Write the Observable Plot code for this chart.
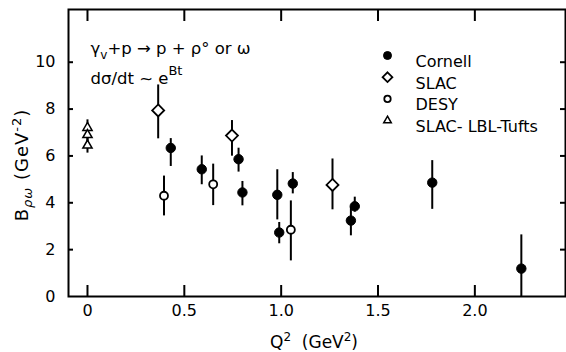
<!DOCTYPE html>
<html>
<head>
<meta charset="utf-8">
<script src="https://cdn.jsdelivr.net/npm/d3@7"></script>
<script src="https://cdn.jsdelivr.net/npm/@observablehq/plot@0.6"></script>
<style>
  html, body { margin: 0; padding: 0; background: #fff; }
  svg text { font-family: "DejaVu Sans", "Liberation Sans", sans-serif; }
</style>
</head>
<body>
<div id="chart"></div>
<script>
// ---- data ----
const cornellQ2 = [0.43, 0.59, 0.78, 0.80, 0.98, 0.99, 1.06, 1.36, 1.38, 1.78, 2.24];
const cornellB  = [6.34, 5.43, 5.86, 4.44, 4.34, 2.73, 4.82, 3.24, 3.85, 4.86, 1.19];
const cornellLo = [5.55, 4.77, 5.31, 3.87, 3.27, 2.25, 4.38, 2.59, 3.60, 3.72, 0.00];
const cornellHi = [6.74, 6.00, 6.33, 4.91, 5.41, 3.16, 5.29, 3.80, 4.24, 5.80, 2.63];

const slacQ2 = [0.365, 0.746, 1.265];
const slacB  = [7.94, 6.87, 4.76];
const slacLo = [6.73, 5.99, 3.70];
const slacHi = [9.03, 7.51, 5.87];

const desyQ2 = [0.395, 0.649, 1.05];
const desyB  = [4.30, 4.79, 2.85];
const desyLo = [3.44, 3.88, 1.52];
const desyHi = [5.14, 5.65, 4.08];

const tuftsQ2 = [0, 0, 0];
const tuftsB  = [7.20, 6.90, 6.45];
const tuftsLo = [6.90, 6.60, 6.12];
const tuftsHi = [7.54, 7.20, 6.80];

const xTicks = [0, 0.5, 1.0, 1.5, 2.0];
const xTickLabels = ["0", "0.5", "1.0", "1.5", "2.0"];
const yTicks = [0, 2, 4, 6, 8, 10];
const yTickLabels = ["0", "2", "4", "6", "8", "10"];

const legendNames = ["Cornell", "SLAC", "DESY", "SLAC- LBL-Tufts"];

// ---- build tables ----
const rows = (q, b, lo, hi) => q.map((d, i) => ({q2: d, b: b[i], lo: lo[i], hi: hi[i]}));
const cornell = rows(cornellQ2, cornellB, cornellLo, cornellHi);
const slac = rows(slacQ2, slacB, slacLo, slacHi);
const desy = rows(desyQ2, desyB, desyLo, desyHi);
const tufts = rows(tuftsQ2, tuftsB, tuftsLo, tuftsHi);

const W = 566, H = 352;
const mL = 68, mR = 1, mT = 9, mB = 56;
const plotW = W - mL - mR, plotH = H - mT - mB;
const FONT = "DejaVu Sans, Liberation Sans, sans-serif";

const styles = [
  {symbol: "circle", fill: "black", stroke: "black", r: 4.7, sw: 1, lr: 4.0},
  {symbol: "diamond2", fill: "white", stroke: "black", r: 5.4, sw: 1.8, lr: 4.4},
  {symbol: "circle", fill: "white", stroke: "black", r: 4.0, sw: 1.8, lr: 3.2},
  {symbol: "triangle2", fill: "white", stroke: "black", r: 4.4, sw: 1.5, lr: 3.6}
];
const sets = [cornell, slac, desy, tufts];

const marks = [];
// error bars
sets.forEach(s => marks.push(Plot.ruleX(s, {x: "q2", y1: "lo", y2: "hi", stroke: "black", strokeWidth: 2})));
// points
sets.forEach((s, i) => {
  const st = styles[i];
  marks.push(Plot.dot(s, {x: "q2", y: "b", symbol: () => st.symbol, r: st.r, fill: st.fill, stroke: st.stroke, strokeWidth: st.sw}));
});
// frame + inward ticks
marks.push(Plot.frame({stroke: "black", strokeWidth: 2}));
marks.push(Plot.tickX(xTicks, {x: d => d, insetTop: plotH - 11, stroke: "black", strokeWidth: 2}));
marks.push(Plot.tickX(xTicks, {x: d => d, insetBottom: plotH - 12, stroke: "black", strokeWidth: 2}));
marks.push(Plot.tickY(yTicks.slice(1), {y: d => d, insetRight: plotW - 5, stroke: "black", strokeWidth: 2}));
marks.push(Plot.tickY(yTicks.slice(1), {y: d => d, insetLeft: plotW - 5, stroke: "black", strokeWidth: 2}));
// axis tick labels
marks.push(Plot.axisX(xTicks, {tickSize: 0, tickPadding: 8, tickFormat: (d, i) => xTickLabels[i], fontSize: 16}));
marks.push(Plot.axisY(yTicks, {tickSize: 0, tickPadding: 13, tickFormat: (d, i) => yTickLabels[i], fontSize: 16}));
// legend
legendNames.forEach((name, i) => {
  const st = styles[i];
  const dy = 46 + 21.7 * i;
  marks.push(Plot.dot([name], {frameAnchor: "top-left", dx: 319, dy, symbol: () => st.symbol,
    r: st.lr, fill: st.fill, stroke: st.stroke, strokeWidth: st.sw}));
  marks.push(Plot.text([name], {frameAnchor: "top-left", dx: 347, dy, text: d => d,
    textAnchor: "start", fontSize: 16, fill: "black"}));
});
// annotation
marks.push(Plot.text(["ann1"], {frameAnchor: "top-left", dx: 22, dy: 33, text: d => d, textAnchor: "start", fontSize: 16.5, className: "ann1"}));
marks.push(Plot.text(["ann2"], {frameAnchor: "top-left", dx: 22, dy: 63, text: d => d, textAnchor: "start", fontSize: 16.5, className: "ann2"}));

const chart = Plot.plot({
  width: W, height: H,
  marginLeft: mL, marginRight: mR, marginTop: mT, marginBottom: mB,
  x: {domain: [-0.098, 2.468], label: null},
  y: {domain: [0, 12.25], label: null},
  style: {fontFamily: FONT, fontSize: "16px", color: "black", background: "white", overflow: "visible"},
  marks
});

const svg = d3.select(chart);
// rich text for annotations
svg.select(".ann1 text").html('γ<tspan dy="5" font-size="12">v</tspan><tspan dy="-5">+p → p + ρ° or ω</tspan>');
svg.select(".ann2 text").html('dσ/dt ~ e<tspan dy="-9" font-size="13">Bt</tspan>');
// axis titles
svg.append("text")
  .attr("x", 314).attr("y", 348).attr("text-anchor", "middle").attr("font-size", 17).attr("fill", "black")
  .html('Q<tspan dy="-7" font-size="12">2</tspan><tspan dy="7">  (GeV</tspan><tspan dy="-7" font-size="12">2</tspan><tspan dy="7">)</tspan>');
svg.append("text")
  .attr("transform", "translate(28,165) rotate(-90)").attr("text-anchor", "middle").attr("font-size", 18)
  .attr("letter-spacing", 1).attr("fill", "black")
  .html('B<tspan dy="4" font-size="13" font-style="italic">ρω</tspan><tspan dy="-4"> (GeV</tspan><tspan dy="-7" font-size="13">-2</tspan><tspan dy="7">)</tspan>');

document.getElementById("chart").appendChild(chart);
</script>
</body>
</html>
